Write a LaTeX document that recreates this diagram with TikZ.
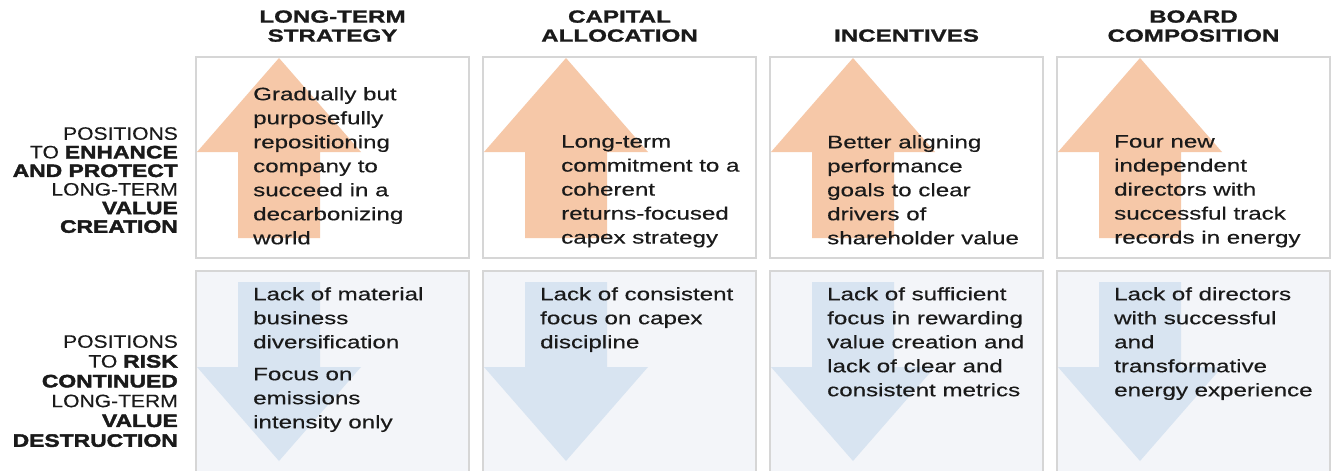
\documentclass[tikz,border=0pt]{standalone}
\usepackage{fontspec}
\setmainfont{Liberation Sans}
\newfontfamily\bodyfont{Liberation Sans}[FakeStretch=1.34, FakeBold=0.4]
\newfontfamily\headfont{Liberation Sans}[FakeStretch=1.38, BoldFeatures={FakeBold=1.2}]
\newfontfamily\labelfont{Liberation Sans}[FakeStretch=1.17, FakeBold=0.3, BoldFeatures={FakeStretch=1.27, FakeBold=2.2}]
\usepackage{xcolor}
\usepackage{tikz}
\usetikzlibrary{positioning}

\definecolor{upfill}{RGB}{246,200,168}
\definecolor{downfill}{RGB}{216,228,241}
\definecolor{lowbox}{RGB}{243,245,249}
\definecolor{boxline}{RGB}{214,214,214}
\definecolor{ink}{RGB}{26,26,26}

\begin{document}
\begin{tikzpicture}[
    x=1pt, y=-1pt,
    panel/.style={rectangle, inner sep=0, outer sep=0, minimum width=273pt, anchor=north west},
    frame/.style={draw=boxline, line width=1.3pt},
    body/.style={font={\bodyfont\fontsize{18}{24}\selectfont}, text=ink, align=left, inner sep=0, anchor=north west},
    head/.style={font={\headfont\bfseries\fontsize{17.5}{19}\selectfont}, text=ink, align=center, inner sep=0},
    side/.style={text=ink, align=right, inner sep=0, anchor=north east}
]
\useasboundingbox[fill=white] (0,0) rectangle (1331,471);

% Panels with up and down arrows
\foreach \i in {1,...,4}{
  \pgfmathsetmacro{\L}{196+287*(\i-1)}
  \pgfmathsetmacro{\C}{\L+83}
  \node[panel, fill=white, minimum height=201pt] (hi\i) at (\L,57) {};
  \node[panel, fill=lowbox, minimum height=210pt] (lo\i) at (\L,271) {};
  \fill[upfill] (\C,58) -- (\C+82,152) -- (\C+41,152) -- (\C+41,238)
    -- (\C-41,238) -- (\C-41,152) -- (\C-82,152) -- cycle;
  \fill[downfill] (\C-41,282) -- (\C+41,282) -- (\C+41,367) -- (\C+82,367)
    -- (\C,461) -- (\C-82,367) -- (\C-41,367) -- cycle;
  \draw[frame] (hi\i.north west) rectangle (hi\i.south east);
  \draw[frame] (lo\i.north west) rectangle (lo\i.south east);
}

% Column headings
\node[head, above=15pt of hi1.north] (head1) {LONG-TERM\\STRATEGY};
\node[head, above=15pt of hi2.north] (head2) {CAPITAL\\ALLOCATION};
\node[head, above=15pt of hi3.north] (head3) {INCENTIVES};
\node[head, above=15pt of hi4.north] (head4) {BOARD\\COMPOSITION};

% Row labels
\node[side, font={\labelfont\fontsize{18}{18.6}\selectfont}] (enhance) at (178,127)
  {POSITIONS\\TO \textbf{ENHANCE}\\\textbf{AND PROTECT}\\LONG-TERM\\\textbf{VALUE}\\\textbf{CREATION}};
\node[side, font={\labelfont\fontsize{18}{19.8}\selectfont}] (destroy) at (178,335)
  {POSITIONS\\TO \textbf{RISK}\\\textbf{CONTINUED}\\LONG-TERM\\\textbf{VALUE}\\\textbf{DESTRUCTION}};

% Upper row texts
\node[body] (gain1) at (253,87) {Gradually but\\purposefully\\repositioning\\company to\\succeed in a\\decarbonizing\\world};
\node[body] (gain2) at (561,135) {Long-term\\commitment to a\\coherent\\returns-focused\\capex strategy};
\node[body] (gain3) at (827,135) {Better aligning\\performance\\goals to clear\\drivers of\\shareholder value};
\node[body] (gain4) at (1114,135) {Four new\\independent\\directors with\\successful track\\records in energy};

% Lower row texts
\node[body] (risk1) at (253,287) {Lack of material\\business\\diversification\\[8pt]Focus on\\emissions\\intensity only};
\node[body] (risk2) at (540,287) {Lack of consistent\\focus on capex\\discipline};
\node[body] (risk3) at (827,287) {Lack of sufficient\\focus in rewarding\\value creation and\\lack of clear and\\consistent metrics};
\node[body] (risk4) at (1114,287) {Lack of directors\\with successful\\and\\transformative\\energy experience};

\end{tikzpicture}
\end{document}
